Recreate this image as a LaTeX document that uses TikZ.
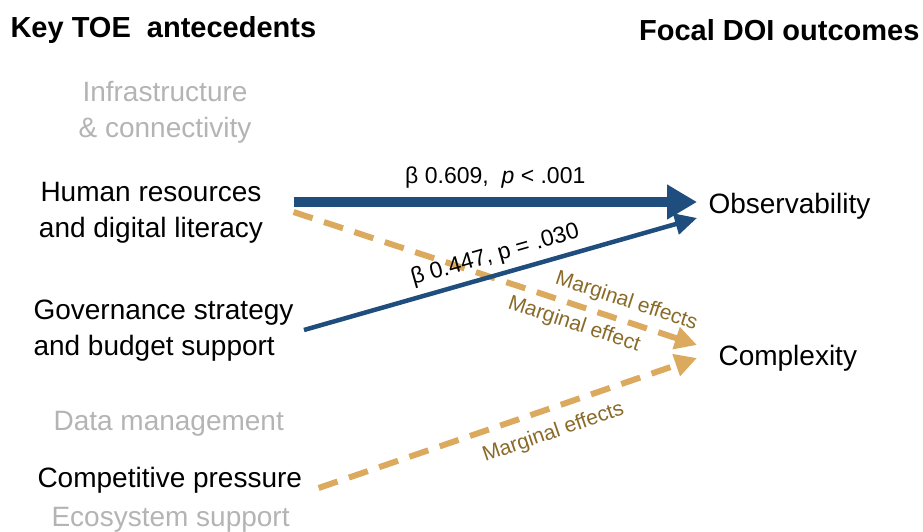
\documentclass[tikz,border=0pt]{standalone}
\usepackage{fontspec}
\setmainfont{Liberation Sans}
\usetikzlibrary{arrows.meta}
\definecolor{pathblue}{HTML}{1F4E7E}
\definecolor{margold}{HTML}{DBAA5E}
\definecolor{margtext}{HTML}{8A6A28}
\definecolor{faded}{HTML}{B4B4B4}

\begin{document}
\begin{tikzpicture}[x=1pt, y=1pt,
  head/.style={font=\fontsize{29}{34}\selectfont\bfseries},
  factor/.style={font=\fontsize{28}{36}\selectfont, text=black},
  minor/.style={font=\fontsize{28}{36}\selectfont, text=faded},
  sig/.style={pathblue, line width=4.5pt, -{Triangle[length=22pt, width=21pt]}},
  strong/.style={pathblue, line width=9pt, -{Triangle[length=30pt, width=33pt]}},
  marg/.style={margold, line width=6pt, dash pattern=on 20pt off 12pt, -{Triangle[length=22pt, width=22pt]}},
  beta/.style={font=\fontsize{23}{27}\selectfont, text=black},
  margl/.style={font=\fontsize{21}{25}\selectfont, text=margtext}]
\useasboundingbox (0,0) rectangle (923,531);
\node[head, anchor=west] (lefthead) at (7,501) {Key TOE\ \ antecedents};
\node[head, anchor=east] (righthead) at (923,501) {Focal DOI outcomes};
\node[minor, align=center] (infra) at (165,419) {Infrastructure\\\& connectivity};
\node[factor, align=center] (hr) at (151,318) {Human resources\\and digital literacy};
\node[factor, align=left, anchor=west] (gov) at (30,200) {Governance strategy\\and budget support};
\node[minor, anchor=west] (data) at (50,107) {Data management};
\node[factor, anchor=west] (comp) at (34,51) {Competitive pressure};
\node[minor, anchor=west] (eco) at (48,11) {Ecosystem support};
\node[factor, anchor=west] (obs) at (705,325) {Observability};
\node[factor, anchor=west] (cplx) at (715,173) {Complexity};
\draw[marg] ([shift={(27,1)}]hr.east) -- ([shift={(-18,13)}]cplx.west)
  node[margl, sloped, above=3pt, pos=0.81] {Marginal effects}
  node[margl, sloped, below=3pt, pos=0.71] {Marginal effect};
\draw[marg] ([shift={(13,-8)}]comp.east) -- ([shift={(-18,0)}]cplx.west)
  node[margl, sloped, below=8pt, pos=0.6] {Marginal effects};
\draw[strong] ([shift={(27,11)}]hr.east) -- ([shift={(-8,4)}]obs.west)
  node[beta, above=6pt, midway] {β 0.609,\ \ \textit{p} < .001};
\draw[sig] ([shift={(7,1)}]gov.east) -- ([shift={(-8,-12)}]obs.west)
  node[beta, sloped, above=3pt, pos=0.5] {β 0.447, p = .030};
\end{tikzpicture}
\end{document}
